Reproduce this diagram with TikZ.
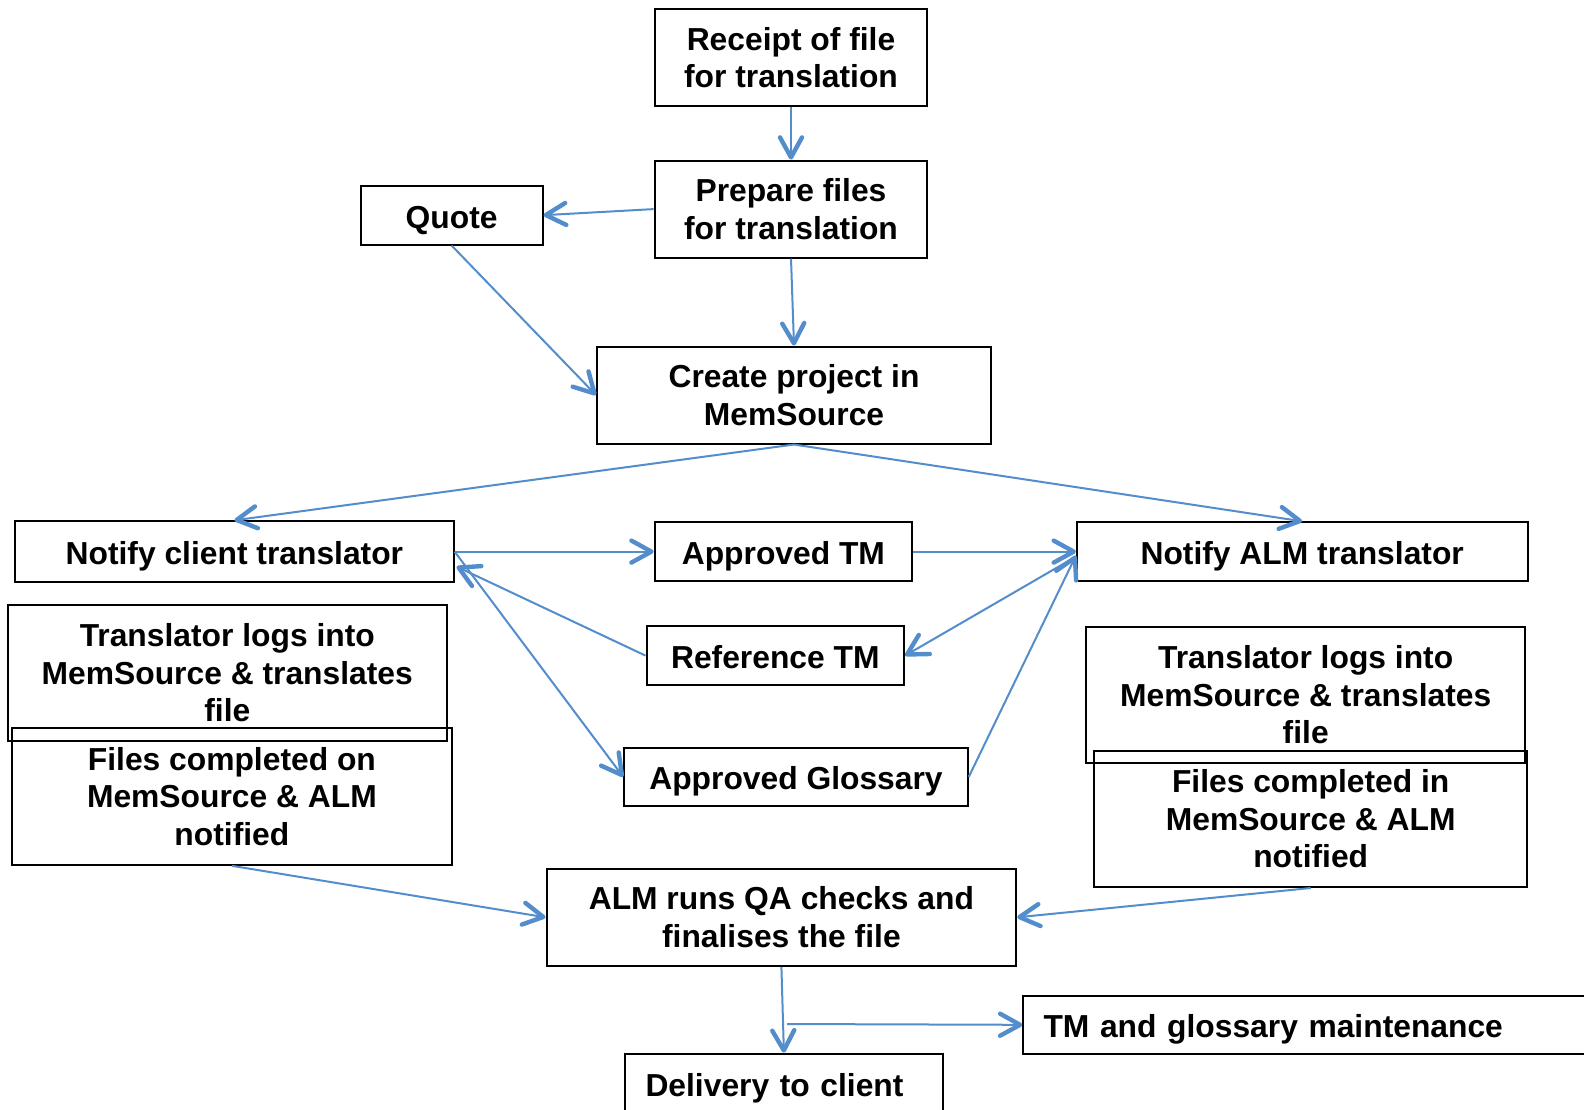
\documentclass[tikz,border=0pt]{standalone}
\usepackage{fontspec}
\setmainfont{Liberation Sans}
\usetikzlibrary{arrows.meta,calc}
\definecolor{linkblue}{RGB}{84,141,203}
\begin{document}
\begin{tikzpicture}[x=0.5pt,y=-0.5pt,
  box/.style={draw=black, line width=1pt, align=center, inner sep=0pt,
    font=\bfseries\fontsize{15.9}{18.7}\selectfont},
  oneline/.style={text height=16.2pt, text depth=3.3pt},
  link/.style={draw=linkblue, line width=1pt,
    -{Straight Barb[length=10pt,width=11pt,line width=2.2pt,round]}}]
\fill[white] (0,0) rectangle (1584,1109);
\clip (0,0) rectangle (1584,1109);

\node[box, minimum width=136.4pt, minimum height=48.5pt] (rec) at (791,57.6) {Receipt of file\\for translation};
\node[box, minimum width=136.4pt, minimum height=48.5pt] (prep) at (791,209.1) {Prepare files\\for translation};
\node[box, oneline, minimum width=91pt, minimum height=29.3pt] (quote) at (451.6,215.2) {Quote};
\node[box, minimum width=197pt, minimum height=48.5pt] (create) at (794,395) {Create project in\\MemSource};
\node[box, oneline, minimum width=219.2pt, minimum height=30.3pt] (ncl) at (234.4,551.6) {Notify client translator};
\node[box, oneline, minimum width=128.8pt, minimum height=29.3pt] (atm) at (783.4,551.6) {Approved TM};
\node[box, oneline, minimum width=225.3pt, minimum height=29.3pt] (nalm) at (1302.2,551.6) {Notify ALM translator};
\node[box, minimum width=219.2pt, minimum height=67.7pt] (tl1) at (227.3,672.8) {Translator logs into\\MemSource \& translates\\file};
\node[box, minimum width=219.8pt, minimum height=68.2pt] (fc1) at (231.9,796.6) {Files completed on\\MemSource \& ALM\\notified};
\node[box, oneline, minimum width=128.8pt, minimum height=29.3pt] (rtm) at (775.3,655.6) {Reference TM};
\node[box, oneline, minimum width=171.8pt, minimum height=29.3pt] (agl) at (796,776.8) {Approved Glossary};
\node[box, minimum width=219.7pt, minimum height=67.7pt] (tl2) at (1305.7,695) {Translator logs into\\MemSource \& translates\\file};
\node[box, minimum width=216.7pt, minimum height=68.2pt] (fc2) at (1310.7,818.8) {Files completed in\\MemSource \& ALM\\notified};
\node[box, minimum width=234.9pt, minimum height=48.5pt] (alm) at (781.4,917.3) {ALM runs QA checks and\\finalises the file};
\node[box, oneline, anchor=north west, inner xsep=10.1pt, text width=300pt, align=left, minimum height=28.8pt] (tmg) at (1022.3,995) {TM and glossary maintenance};
\node[box, oneline, anchor=north west, inner xsep=10.1pt, text width=138.4pt, align=left, minimum height=29.9pt] (del) at (624.3,1052.6) {Delivery to client};

\coordinate (br) at (787,1024);

\draw[link] (rec.south) -- (prep.north);
\draw[link] (prep.west) -- (quote.east);
\draw[link] (prep.south) -- (create.north);
\draw[link] (quote.south) -- (create.west);
\draw[link] (create.south) -- (ncl.north);
\draw[link] (create.south) -- (nalm.north);
\draw[link] (ncl.east) -- (atm.west);
\draw[link] (atm.east) -- (nalm.west);
\draw[link] (rtm.west) -- ($(ncl.east)+(2,15)$);
\draw[link] (ncl.east) -- (agl.west);
\draw[link] ($(nalm.west)+(0,5)$) -- (rtm.east);
\draw[link] (agl.east) -- ($(nalm.west)+(0,4)$);
\draw[link] (fc1.south) -- (alm.west);
\draw[link] (fc2.south) -- (alm.east);
\draw[link] (alm.south) -- (del.north);
\draw[link] (br) -- (tmg.west);
\end{tikzpicture}
\end{document}
